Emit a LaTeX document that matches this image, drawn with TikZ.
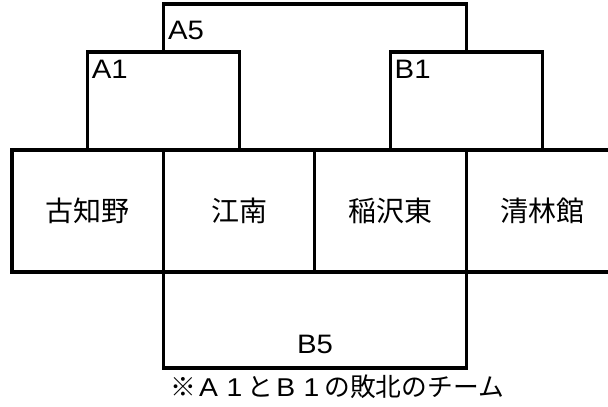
\documentclass[tikz,border=0pt]{standalone}
\usepackage{fontspec}
\setmainfont{Noto Sans CJK JP}
\newfontfamily\roundfont{Liberation Sans}[FakeStretch=1.1]
\usetikzlibrary{positioning}
\usetikzlibrary{calc}
\usetikzlibrary{math}
\newcommand{\fw}[1]{\makebox[1em]{\roundfont #1}}

\begin{document}
\begin{tikzpicture}[x=0.75pt,y=-0.75pt,line width=2.3pt,
  team/.style={draw, minimum width=113.6pt, minimum height=91.5pt,
    inner sep=0pt, outer sep=0pt, font=\fontsize{21}{21}\selectfont},
  round/.style={inner sep=0pt, font=\roundfont\fontsize{20}{20}\selectfont},
  note/.style={inner sep=0pt, font=\fontsize{19.3}{19.3}\selectfont}]

  \tikzmath{
    \riseA  = 98; % height of first round brackets
    \riseAA = 48; % height of A5 bracket above them
    \dropB  = 96; % depth of B5 bracket
  }

  \clip (0,0) rectangle (608,407);

  % teams
  \node[team] (kochino) at (87.75,211) {古知野};
  \node[team, right=0pt of kochino] (konan) {江南};
  \node[team, right=0pt of konan] (inazawa) {稲沢東};
  \node[team, right=0pt of inazawa] (seirin) {清林館};

  % first round
  \draw (kochino.north) -- ++(0,-\riseA) -| (konan.north);
  \draw (inazawa.north) -- ++(0,-\riseA) -| (seirin.north);
  \coordinate (A1) at ($(kochino.north)!0.5!(konan.north) + (0,-\riseA)$);
  \coordinate (B1) at ($(inazawa.north)!0.5!(seirin.north) + (0,-\riseA)$);

  % A5 and B5
  \draw (A1) -- ++(0,-\riseAA) -| (B1);
  \draw (konan.south west) -- ++(0,\dropB) -| (inazawa.south east);

  % labels
  \node[round, anchor=base west] (labA5) at ($(A1) + (3,-13)$) {A5};
  \node[round, anchor=base west] (labA1) at ($(kochino.north) + (2.5,-72)$) {A1};
  \node[round, anchor=base west] (labB1) at ($(inazawa.north) + (2.5,-72)$) {B1};
  \node[round, anchor=base] (labB5) at ($(konan.south east) + (0,81)$) {B5};
  \node[note] (loser) at ($(konan.south east) + (22,115)$)
    {※\fw{A}\fw{1}と\fw{B}\fw{1}の敗北のチーム};

\end{tikzpicture}
\end{document}
